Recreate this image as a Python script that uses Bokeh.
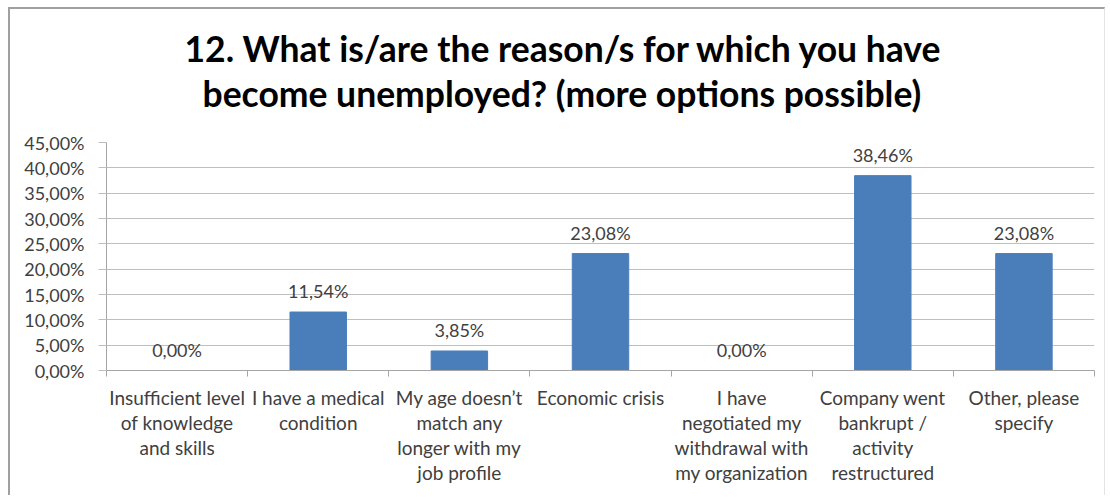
from bokeh.plotting import figure
from bokeh.models import FixedTicker, Range1d, Title, ColumnDataSource
from bokeh.core.properties import value
from bokeh.embed import file_html
from bokeh.resources import INLINE

categories = [
    "Insufficient level\nof knowledge\nand skills",
    "I have a medical\ncondition",
    "My age doesn\u2019t\nmatch any\nlonger with my\njob profile",
    "Economic crisis",
    "I have\nnegotiated my\nwithdrawal with\nmy organization",
    "Company went\nbankrupt /\nactivity\nrestructured",
    "Other, please\nspecify",
]
values = [0.00, 11.54, 3.85, 23.08, 0.00, 38.46, 23.08]
y_ticks = [0, 5, 10, 15, 20, 25, 30, 35, 40, 45]
title_lines = ["12. What is/are the reason/s for which you have",
               "become unemployed? (more options possible)"]

FONT = "Lato"
TEXT = "#404040"

def pct(v):
    return f"{v:.2f}".replace(".", ",") + "%"

xs = [i + 0.5 for i in range(len(categories))]
src = ColumnDataSource(dict(x=xs, top=values, label=[pct(v) for v in values]))

p = figure(width=1097, height=488, output_backend="svg", toolbar_location=None,
           x_range=Range1d(0, len(categories)), y_range=Range1d(0, 45),
           min_border_left=96, min_border_right=13, min_border_bottom=127, min_border_top=133)
p.styles = {"margin-left": "8px", "margin-top": "7px",
            "border-left": "2px solid #a0a0a0", "border-top": "2px solid #a0a0a0",
            "border-right": "1px solid #e4e4e4"}
p.background_fill_color = "white"
p.border_fill_color = "white"
p.outline_line_color = None

p.vbar(x="x", top="top", width=0.4, bottom=0, source=src,
       fill_color="#4A7EBB", line_color="#4A7EBB")
p.text(x="x", y="top", text="label", source=src, text_align="center",
       text_baseline="bottom", y_offset=-10, text_font=value(FONT),
       text_font_size="18px", text_color=TEXT)

# y axis
p.yaxis.ticker = FixedTicker(ticks=y_ticks)
p.yaxis.major_label_overrides = {t: pct(t) for t in y_ticks}
p.yaxis.axis_line_color = "#a6a6a6"
p.yaxis.major_tick_line_color = "#bfbfbf"
p.yaxis.major_tick_out = 8
p.yaxis.major_tick_in = 0
p.yaxis.minor_tick_line_color = None
p.yaxis.major_label_standoff = 14
p.yaxis.major_label_text_font = FONT
p.yaxis.major_label_text_font_size = "18px"
p.yaxis.major_label_text_color = TEXT

# x axis
p.xaxis.ticker = FixedTicker(ticks=xs, minor_ticks=list(range(len(categories) + 1)))
p.xaxis.major_label_overrides = {x: c for x, c in zip(xs, categories)}
p.xaxis.axis_line_color = "#a6a6a6"
p.xaxis.major_tick_line_color = None
p.xaxis.minor_tick_line_color = "#a6a6a6"
p.xaxis.minor_tick_out = 6
p.xaxis.minor_tick_in = 0
p.xaxis.major_label_standoff = 9
p.xaxis.major_label_text_font = FONT
p.xaxis.major_label_text_font_size = "19px"
p.xaxis.major_label_text_color = TEXT
p.xaxis.major_label_text_line_height = 1.096

p.xgrid.grid_line_color = None
p.ygrid.ticker = FixedTicker(ticks=y_ticks)
p.ygrid.grid_line_color = "#bfbfbf"

# spacer between plot area and title block
p.add_layout(Title(text=" ", text_font_size="1px", standoff=25), "above")
# title: line 2 (nearest to plot), then line 1
p.add_layout(Title(text=title_lines[1], align="left", offset=96,
                   text_font=FONT, text_font_size="35.5px", text_font_style="bold",
                   text_color="black", standoff=0), "above")
p.add_layout(Title(text=title_lines[0], align="left", offset=78,
                   text_font=FONT, text_font_size="35.5px", text_font_style="bold",
                   text_color="black", standoff=0), "above")

open("out.html", "w").write(file_html(p, INLINE))
